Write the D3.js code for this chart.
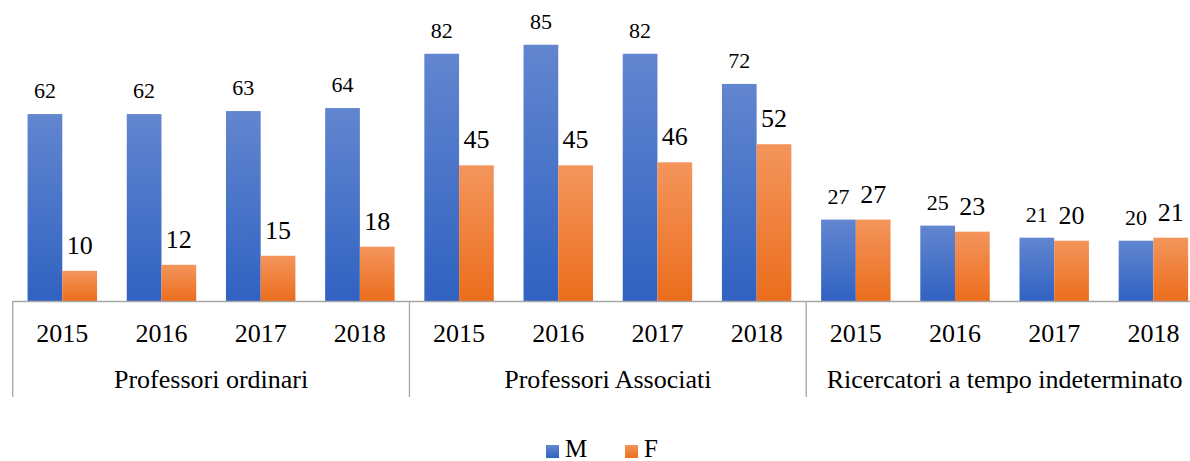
<!DOCTYPE html>
<html>
<head>
<meta charset="utf-8">
<script src="https://cdn.jsdelivr.net/npm/d3@7"></script>
<style>
  body { margin: 0; background: #fff; }
  svg text { font-family: "Liberation Serif", "Times New Roman", Times, serif; }
</style>
</head>
<body>
<div id="chart"></div>
<script>
// data
const groups = ['Professori ordinari', 'Professori Associati', 'Ricercatori a tempo indeterminato'];
const years = ['2015', '2016', '2017', '2018'];
const seriesNames = ['M', 'F'];
const valuesM = [62, 62, 63, 64, 82, 85, 82, 72, 27, 25, 21, 20];
const valuesF = [10, 12, 15, 18, 45, 45, 46, 52, 27, 23, 20, 21];

const width = 1190, height = 461;
const baseY = 301;
const serif = '"Liberation Serif", "Times New Roman", Times, serif';

// build category keys group|year
const keys = [];
groups.forEach(g => years.forEach(y => keys.push(g + '|' + y)));
const rows = keys.map((k, i) => ({ key: k, M: valuesM[i], F: valuesF[i] }));

const svg = d3.select('#chart').append('svg')
  .attr('width', width).attr('height', height)
  .attr('font-family', serif);

// gradients (lighter top, darker bottom)
const defs = svg.append('defs');
const grad = [
  { id: 'gM', top: '#6286cf', bottom: '#3062c2' },
  { id: 'gF', top: '#f4955c', bottom: '#eb6d1c' }
];
grad.forEach(g => {
  const lg = defs.append('linearGradient').attr('id', g.id)
    .attr('x1', 0).attr('y1', 0).attr('x2', 0).attr('y2', 1);
  lg.append('stop').attr('offset', '0%').attr('stop-color', g.top);
  lg.append('stop').attr('offset', '100%').attr('stop-color', g.bottom);
});
const fillOf = { M: 'url(#gM)', F: 'url(#gF)' };

// scales
const x0 = d3.scaleBand().domain(keys).range([12.7, 1203])
  .paddingInner(0.3).paddingOuter(0.15);
const x1 = d3.scaleBand().domain(seriesNames).range([0, x0.bandwidth()]);
const y = d3.scaleLinear().domain([0, 90]).range([baseY, baseY - 90 * 3.015]);

// bars
const cat = svg.append('g').selectAll('g').data(rows).join('g')
  .attr('transform', d => `translate(${x0(d.key)},0)`);

cat.selectAll('rect').data(d => seriesNames.map(s => ({ s, v: d[s] }))).join('rect')
  .attr('x', d => x1(d.s))
  .attr('y', d => y(d.v))
  .attr('width', x1.bandwidth())
  .attr('height', d => baseY - y(d.v))
  .attr('fill', d => fillOf[d.s]);

// value labels
cat.selectAll('text').data(d => seriesNames.map(s => ({ s, v: d[s] }))).join('text')
  .attr('x', d => x1(d.s) + x1.bandwidth() / 2)
  .attr('y', d => y(d.v) - (d.s === 'M' ? 16 : 17))
  .attr('text-anchor', 'middle')
  .attr('font-size', d => d.s === 'M' ? 22 : 26)
  .attr('fill', '#000')
  .text(d => d.v);

// x axis (years)
const step = x0.step();
const xAxis = svg.append('g').attr('transform', `translate(0,${baseY})`)
  .call(d3.axisBottom(x0).tickSize(0).tickPadding(0).tickFormat(k => k.split('|')[1]));
xAxis.attr('font-family', serif).attr('font-size', 26);
xAxis.select('.domain').remove();
xAxis.selectAll('text')
  .attr('y', 41).attr('dy', null)
  .attr('font-size', 26).attr('fill', '#000');

// axis line
const start = x0.range()[0];
svg.append('line')
  .attr('x1', start).attr('x2', width)
  .attr('y1', baseY + 0.5).attr('y2', baseY + 0.5)
  .attr('stroke', '#a6a6a6').attr('stroke-width', 1.3);

// group separators and labels
groups.forEach((g, i) => {
  const gx = start + i * 4 * step;
  svg.append('line')
    .attr('x1', gx).attr('x2', gx)
    .attr('y1', baseY).attr('y2', 397)
    .attr('stroke', '#a6a6a6').attr('stroke-width', 1.3);
  svg.append('text')
    .attr('x', gx + 2 * step).attr('y', 388)
    .attr('text-anchor', 'middle').attr('font-size', 26)
    .text(g);
});

// legend
const legend = [
  { s: 'M', x: 546 },
  { s: 'F', x: 625 }
];
legend.forEach(l => {
  svg.append('rect').attr('x', l.x).attr('y', 445).attr('width', 13).attr('height', 13)
    .attr('fill', fillOf[l.s]);
  svg.append('text').attr('x', l.x + 19).attr('y', 457)
    .attr('font-size', 25).text(l.s);
});
</script>
</body>
</html>
